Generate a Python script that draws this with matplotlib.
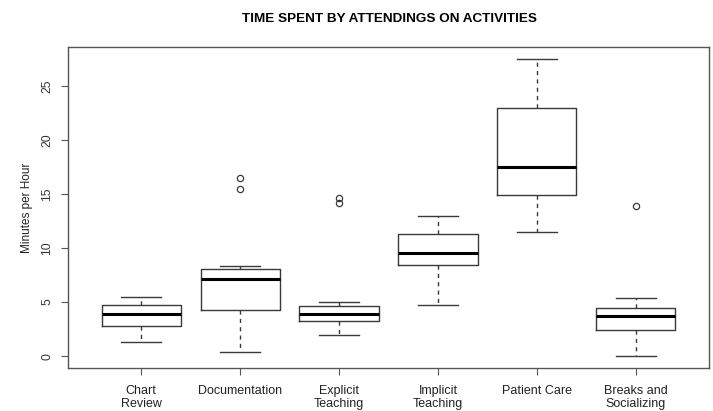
import matplotlib
matplotlib.use("Agg")
import matplotlib.pyplot as plt

# categories and box stats (minutes per hour)
categorias = ["Chart\nReview", "Documentation", "Explicit\nTeaching",
              "Implicit\nTeaching", "Patient Care", "Breaks and\nSocializing"]
whislo = [1.33, 0.34, 1.98, 4.72, 11.5, 0.0]
q1 = [2.78, 4.23, 3.27, 8.4, 14.88, 2.41]
mediana = [3.86, 7.13, 3.86, 9.5, 17.5, 3.73]
q3 = [4.72, 8.09, 4.66, 11.26, 23.0, 4.44]
whishi = [5.49, 8.36, 4.97, 13.0, 27.5, 5.37]
outliers = [[], [16.5, 15.5], [14.6, 14.2], [], [], [13.89]]

plt.rcParams['font.family'] = ['Liberation Sans', 'DejaVu Sans']

stats = []
for i in range(len(categorias)):
    stats.append({
        "whislo": whislo[i], "q1": q1[i], "med": mediana[i],
        "q3": q3[i], "whishi": whishi[i], "fliers": outliers[i],
    })

fig = plt.figure(figsize=(7.13, 4.11), dpi=100)
ax = fig.add_axes([0.0954, 0.1046, 0.899, 0.781])

cor = "#3a3a3a"
ax.bxp(stats, positions=range(1, 7), widths=0.8, showfliers=True,
       boxprops=dict(color=cor, linewidth=1.0),
       medianprops=dict(color="black", linewidth=2.2, solid_capstyle="butt"),
       whiskerprops=dict(color=cor, linewidth=1.0, linestyle=(0, (3, 3))),
       capprops=dict(color=cor, linewidth=1.0),
       capwidths=0.4,
       flierprops=dict(marker="o", markerfacecolor="none", markeredgecolor=cor,
                       markersize=4.5, markeredgewidth=0.9))

ax.set_xlim(0.26, 6.74)
ax.set_ylim(-1.1, 28.6)
ax.set_xticks(range(1, 7))
ax.set_xticklabels(categorias, fontsize=9, color="#222222", linespacing=1.2)
ax.set_yticks([0, 5, 10, 15, 20, 25])
ax.set_yticklabels(["0", "5", "10", "15", "20", "25"], rotation=90,
                   va="center", fontsize=8.8, color="#333333")
ax.tick_params(axis="both", length=5, color="#555555", width=0.8)
ax.tick_params(axis="x", pad=7)
ax.tick_params(axis="y", pad=5.5)
ax.set_ylabel("Minutes per Hour", fontsize=8.5, color="#222222", labelpad=6)

for s in ax.spines.values():
    s.set_color("#555555")
    s.set_linewidth(1.0)

fig.text(0.546, 0.953, "TIME SPENT BY ATTENDINGS ON ACTIVITIES",
         ha="center", va="center", fontsize=9.7, fontweight="bold")

fig.savefig("out.png", dpi=100)
